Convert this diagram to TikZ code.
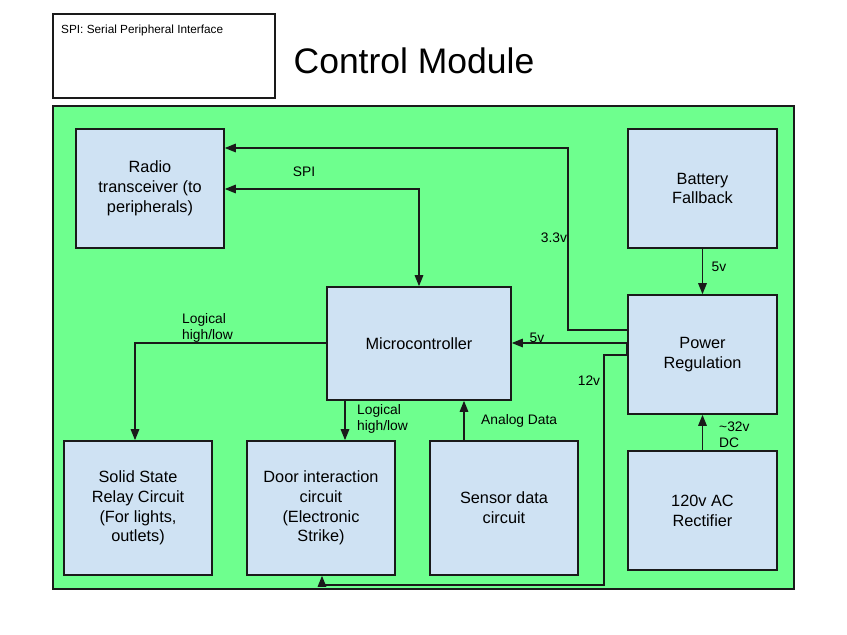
\documentclass[tikz,border=0pt]{standalone}
\usepackage{fontspec}
\setmainfont{Liberation Sans}
\usetikzlibrary{arrows.meta}
\definecolor{panelgreen}{RGB}{110,255,142}
\definecolor{boxblue}{RGB}{207,226,243}
\definecolor{ink}{RGB}{26,26,26}
\tikzset{
  tip/.tip={Triangle[length=11pt,width=8.5pt]},
  block/.style={draw=ink, line width=1.6pt, fill=boxblue, align=center,
    inner sep=0pt, font=\fontsize{16.3}{19.8}\selectfont},
  conn/.style={draw=ink, line width=1.5pt, -tip},
  lbl/.style={inner sep=0pt, font=\fontsize{13.8}{16}\selectfont, align=left}
}
\begin{document}
\begin{tikzpicture}[x=1pt,y=-1pt]
\useasboundingbox (0,0) rectangle (847,635);
\fill[white] (0,0) rectangle (847,635);
% legend and title
\node[draw=ink, line width=1.4pt, minimum width=222pt, minimum height=84pt, inner sep=0pt] (legend) at (164,56) {};
\node[anchor=base west, inner sep=0pt, font=\fontsize{11.8}{14}\selectfont] (legendtext) at (61,33) {SPI: Serial Peripheral Interface};
\node[anchor=base, inner sep=0pt, font=\fontsize{35.5}{40}\selectfont] (title) at (414,73) {Control Module};
% panel
\node[draw=ink, line width=1.5pt, fill=panelgreen, minimum width=741pt, minimum height=483pt, inner sep=0pt] (panel) at (423.5,347.5) {};
% blocks
\node[block, minimum width=148pt, minimum height=119pt] (radio) at (150,188.5) {Radio\\transceiver (to\\peripherals)};
\node[block, minimum width=149pt, minimum height=119pt] (battery) at (702.5,188.5) {Battery\\Fallback};
\node[block, minimum width=184pt, minimum height=113pt] (micro) at (419,343.5) {Microcontroller};
\node[block, minimum width=149pt, minimum height=119pt] (power) at (702.5,354.5) {Power\\Regulation};
\node[block, minimum width=148pt, minimum height=134pt] (solid) at (138,508) {Solid State\\Relay Circuit\\(For lights,\\outlets)};
\node[block, minimum width=148pt, minimum height=134pt] (door) at (321,508) {Door interaction\\circuit\\(Electronic\\Strike)};
\node[block, minimum width=148pt, minimum height=134pt] (sensor) at (504,508) {Sensor data\\circuit};
\node[block, minimum width=149pt, minimum height=119pt] (rect) at (702.5,510.5) {120v AC\\Rectifier};
% connectors
\draw[conn] (power.west |- 0,330) -- (568,330) -- (568,148) -- (radio.east |- 0,148);
\draw[conn, tip-tip] (radio.east |- 0,189) -| (micro.north);
\draw[conn] (power.west |- 0,343) -- (micro.east |- 0,343);
\draw[conn] (power.west |- 0,343) -- (power.west |- 0,355) -- (604,355) -- (604,585) -| (door.south -| 322,0);
\draw[conn] (micro.west |- 0,343) -| (solid.north -| 135,0);
\draw[conn] (micro.south -| 345,0) -- (door.north -| 345,0);
\draw[conn] (sensor.north -| 464,0) -- (micro.south -| 464,0);
\draw[conn] (battery.south) -- (power.north);
\draw[conn] (rect.north) -- (power.south);
% labels
\node[lbl, anchor=base] (lspi) at (304,176) {SPI};
\node[lbl, anchor=base] (l33) at (554,242) {3.3v};
\node[lbl, anchor=base] (l5a) at (537,342) {5v};
\node[lbl, anchor=base] (l12) at (589,385) {12v};
\node[lbl, anchor=base] (l5b) at (719,271) {5v};
\node[lbl, anchor=base west] (l32) at (719,447) {\textasciitilde32v\\DC};
\node[lbl, anchor=base west] (llog1) at (182,339) {Logical\\high/low};
\node[lbl, anchor=base west] (llog2) at (357,430) {Logical\\high/low};
\node[lbl, anchor=base west] (lana) at (481,424) {Analog Data};
\end{tikzpicture}
\end{document}
